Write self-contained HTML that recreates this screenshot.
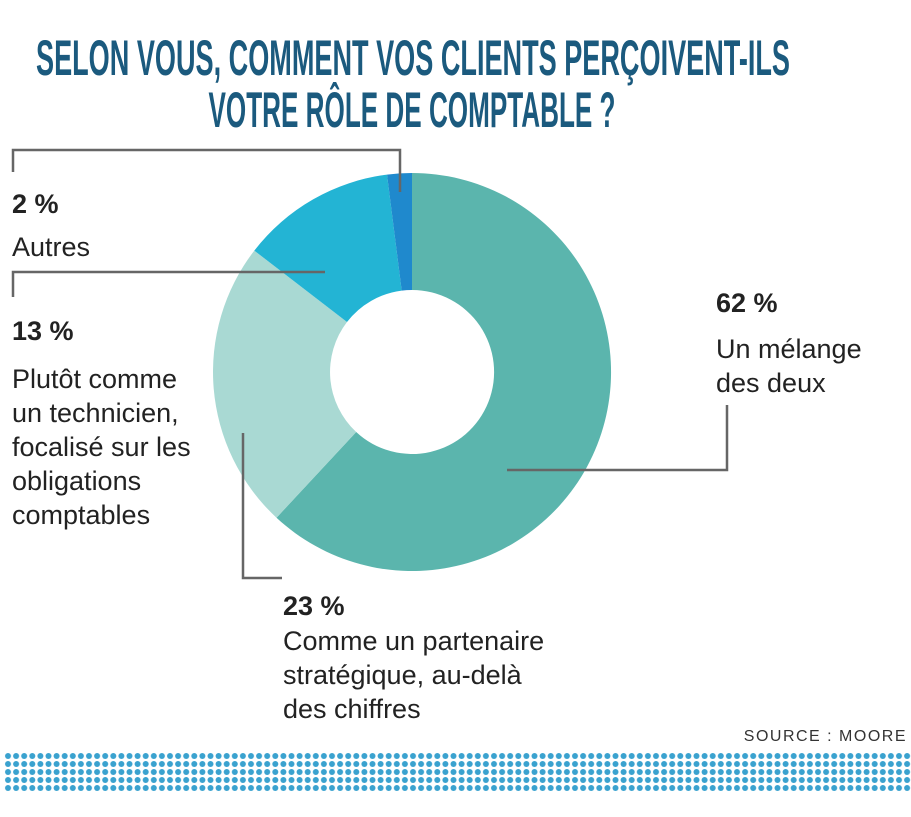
<!DOCTYPE html>
<html><head><meta charset="utf-8"><style>
body{margin:0;background:#fff;width:911px;height:812px;overflow:hidden}
</style></head><body>
<svg width="911" height="812" xmlns="http://www.w3.org/2000/svg">
<defs>
<pattern id="dots" x="4" y="752" width="8.1" height="8" patternUnits="userSpaceOnUse">
<circle cx="4" cy="4" r="3" fill="#3aa2cf"/>
</pattern>
</defs>
<g font-family="Liberation Sans Narrow, Liberation Sans, sans-serif" font-weight="bold" fill="#1b5a7e" font-size="50">
<text x="413" y="75" text-anchor="middle" textLength="754" lengthAdjust="spacingAndGlyphs">SELON VOUS, COMMENT VOS CLIENTS PERÇOIVENT-ILS</text>
<text x="412" y="127" text-anchor="middle" textLength="407" lengthAdjust="spacingAndGlyphs">VOTRE RÔLE DE COMPTABLE ?</text>
</g>
<g transform="translate(412,372)">
<path d="M0,-199 A199,199 0 1,1 -135.5,145.7 L-55.8,60 A82,82 0 1,0 0,-82 Z" fill="#5bb5ad"/>
<path d="M-135.5,145.7 A199,199 0 0,1 -157.7,-121.4 L-65,-50 A82,82 0 0,0 -55.8,60 Z" fill="#a9d9d3"/>
<path d="M-157.7,-121.4 A199,199 0 0,1 -25,-197.4 L-10.3,-81.4 A82,82 0 0,0 -65,-50 Z" fill="#23b4d4"/>
<path d="M-25,-197.4 A199,199 0 0,1 0,-199 L0,-82 A82,82 0 0,0 -10.3,-81.4 Z" fill="#1f89cd"/>
</g>
<g stroke="#666" stroke-width="2.5" fill="none">
<polyline points="400,192 400,150 13,150 13,172"/>
<polyline points="325,272 13,272 13,297"/>
<polyline points="243,433 243,578 282,578"/>
<polyline points="507,470 727,470 727,405"/>
</g>
<g font-family="Liberation Sans Narrow, Liberation Sans, sans-serif" fill="#222" font-size="27">
<text x="12" y="213" font-weight="bold">2 %</text>
<text x="12" y="256">Autres</text>
<text x="12" y="340" font-weight="bold">13 %</text>
<text x="12" y="388">Plutôt comme</text>
<text x="12" y="422">un technicien,</text>
<text x="12" y="456">focalisé sur les</text>
<text x="12" y="490">obligations</text>
<text x="12" y="524">comptables</text>
<text x="716" y="312" font-weight="bold">62 %</text>
<text x="716" y="358">Un mélange</text>
<text x="716" y="392">des deux</text>
<text x="283" y="615" font-weight="bold">23 %</text>
<text x="283" y="650">Comme un partenaire</text>
<text x="283" y="684">stratégique, au-delà</text>
<text x="283" y="718">des chiffres</text>
<text x="907" y="741" font-size="16" text-anchor="end" letter-spacing="1.5" fill="#333">SOURCE : MOORE</text>
</g>
<rect x="4" y="752" width="907" height="40" fill="url(#dots)"/>
</svg>
</body></html>
